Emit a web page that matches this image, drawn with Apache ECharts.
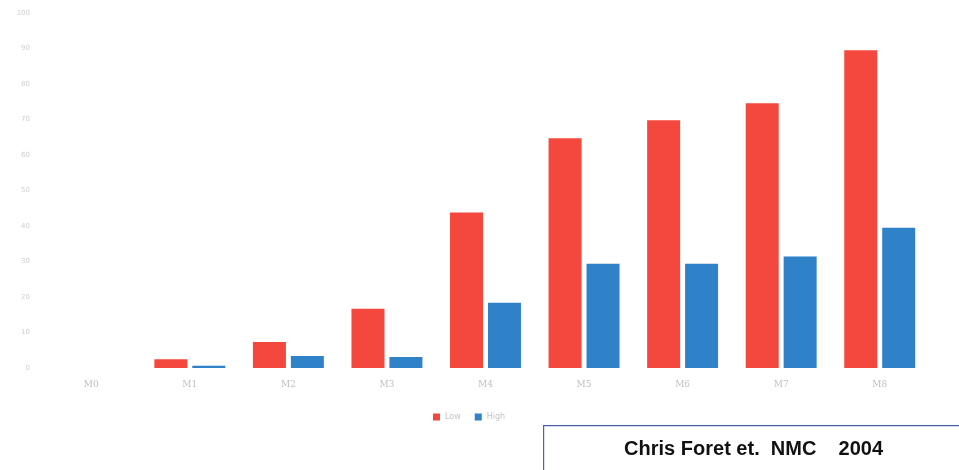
<!DOCTYPE html>
<html>
<head>
<meta charset="utf-8">
<script src="https://cdn.jsdelivr.net/npm/echarts@6/dist/echarts.min.js"></script>
<style>
  html, body { margin: 0; padding: 0; background: #ffffff; }
  #chart { width: 959px; height: 470px; }
</style>
</head>
<body>
<div id="chart"></div>
<script>
// Categories and series values
const categories = ['M0', 'M1', 'M2', 'M3', 'M4', 'M5', 'M6', 'M7', 'M8'];
const lowValues  = [0, 2.5, 7.3, 16.7, 43.8, 64.7, 69.8, 74.6, 89.5];
const highValues = [0, 0.6, 3.4, 3.1, 18.4, 29.4, 29.4, 31.4, 39.5];
const seriesNames = ['Low', 'High'];
const creditText = 'Chris Foret et.  NMC    2004';

const chart = echarts.init(document.getElementById('chart'));

chart.setOption({
  backgroundColor: '#ffffff',
  animation: false,
  grid: { left: 42, right: 30, top: 13, bottom: 102 },
  legend: {
    data: seriesNames,
    left: 428,
    top: 408,
    itemWidth: 7,
    itemHeight: 7,
    itemGap: 14,
    icon: 'rect',
    textStyle: { color: '#c4c4c4', fontSize: 8, fontFamily: 'DejaVu Sans' }
  },
  xAxis: {
    type: 'category',
    data: categories,
    axisLine: { show: false },
    axisTick: { show: false },
    axisLabel: { color: '#c0c0c0', fontSize: 9, margin: 12, fontFamily: 'DejaVu Serif' }
  },
  yAxis: {
    type: 'value',
    min: 0,
    max: 100,
    interval: 10,
    splitLine: { show: false },
    axisLine: { show: false },
    axisTick: { show: false },
    axisLabel: { color: '#cfcfcf', fontSize: 7, margin: 12, fontFamily: 'DejaVu Sans' }
  },
  series: [
    {
      name: seriesNames[0],
      type: 'bar',
      data: lowValues,
      barWidth: 33,
      barGap: '15%',
      itemStyle: { color: '#f4473d' }
    },
    {
      name: seriesNames[1],
      type: 'bar',
      data: highValues,
      barWidth: 33,
      itemStyle: { color: '#2f82c8' }
    }
  ],
  graphic: [
    {
      type: 'group',
      left: 543,
      top: 425,
      children: [
        {
          type: 'rect',
          shape: { x: 0, y: 0, width: 430, height: 60 },
          style: { fill: '#ffffff', stroke: '#4a63a8', lineWidth: 1.2 }
        },
        {
          type: 'text',
          x: 210,
          y: 24,
          style: {
            text: creditText,
            fill: '#111111',
            font: 'bold 20px "Liberation Sans", Arial, sans-serif',
            align: 'center',
            verticalAlign: 'middle'
          }
        }
      ]
    }
  ]
});
</script>
</body>
</html>
